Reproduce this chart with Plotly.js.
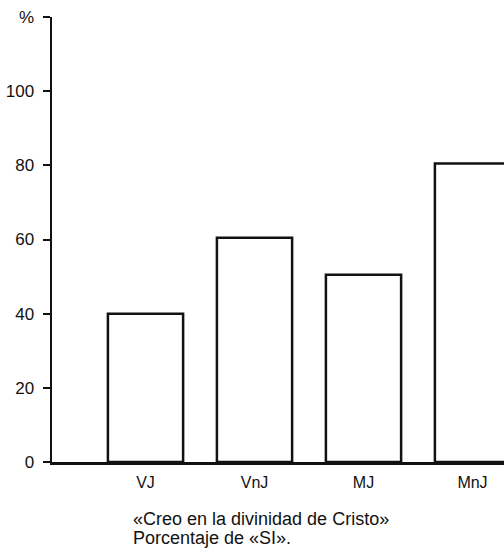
<!DOCTYPE html>
<html>
<head>
<meta charset="utf-8">
<script src="https://cdn.plot.ly/plotly-3.0.1.min.js"></script>
<style>html,body{margin:0;padding:0;background:#fff;}#chart{width:504px;height:553px;}</style>
</head>
<body>
<div id="chart"></div>
<script>
const categories = ["VJ", "VnJ", "MJ", "MnJ"];
const values = [40, 60.5, 50.5, 80.5];
const yTickVals = [0, 20, 40, 60, 80, 100, 120];
const yTickText = ["0", "20", "40", "60", "80", "100", "%"];
const captionLines = ["«Creo en la divinidad de Cristo»", "Porcentaje de «SI»."];

const font = "Liberation Sans, Arial, Helvetica, sans-serif";

const trace = {
  type: "bar",
  x: categories.map((c, i) => i),
  y: values,
  width: 0.69,
  marker: { color: "#ffffff", line: { color: "#111", width: 2.5 } },
  hoverinfo: "skip"
};

const captionY = [-0.128, -0.171];

const layout = {
  width: 504, height: 553,
  margin: { l: 52, r: 0, t: 17, b: 91 },
  paper_bgcolor: "#fff", plot_bgcolor: "#fff",
  showlegend: false,
  font: { family: font, color: "#111", size: 16 },
  xaxis: {
    range: [-0.858, 3.289],
    tickmode: "array",
    tickvals: categories.map((c, i) => i),
    ticktext: categories,
    showgrid: false, zeroline: false,
    showline: true, linecolor: "#111", linewidth: 2.5,
    ticks: "", ticklabelstandoff: 4,
    tickfont: { family: font, size: 16, color: "#111" },
    fixedrange: true
  },
  yaxis: {
    range: [0, 120],
    tickmode: "array",
    tickvals: yTickVals,
    ticktext: yTickText,
    showgrid: false, zeroline: false,
    showline: true, linecolor: "#111", linewidth: 2.5,
    ticks: "outside", ticklen: 7, tickwidth: 2, tickcolor: "#111",
    ticklabelstandoff: 5,
    tickfont: { family: font, size: 17, color: "#111" },
    fixedrange: true
  },
  annotations: captionLines.map((t, i) => ({
    xref: "paper", yref: "paper",
    x: 0.175, y: captionY[i], xanchor: "left", yanchor: "middle",
    align: "left", showarrow: false,
    text: t,
    font: { family: font, size: 18, color: "#111" }
  }))
};

Plotly.newPlot("chart", [trace], layout, { staticPlot: true, displayModeBar: false });
</script>
</body>
</html>
